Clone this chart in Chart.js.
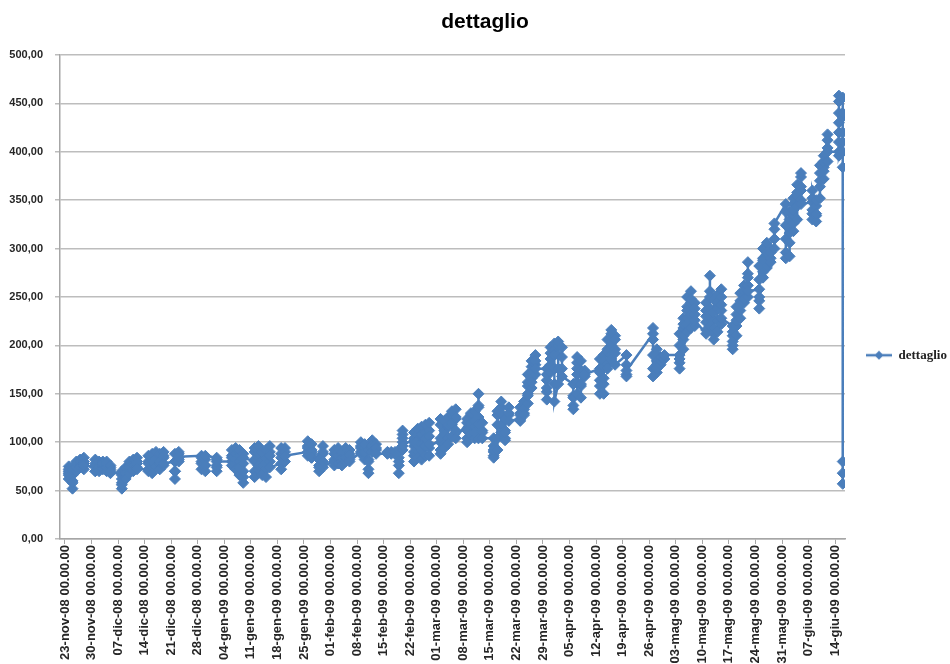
<!DOCTYPE html>
<html><head><meta charset="utf-8">
<script src="https://cdn.jsdelivr.net/npm/chart.js@4.4.1/dist/chart.umd.min.js"></script>
<style>html,body{margin:0;padding:0;background:#fff;}</style>
</head><body>
<canvas id="c" width="950" height="664"></canvas>
<script>
const seriesName = 'dettaglio';
// x tick positions: days since 23-nov-08
const tickDays = [0,7,14,21,28,35,42,49,56,63,70,77,84,91,98,105,112,119,126,133,140,147,154,161,168,175,182,189,196,203];
const tickLabels = ['23-nov-08 00.00.00','30-nov-08 00.00.00','07-dic-08 00.00.00','14-dic-08 00.00.00','21-dic-08 00.00.00','28-dic-08 00.00.00','04-gen-09 00.00.00','11-gen-09 00.00.00','18-gen-09 00.00.00','25-gen-09 00.00.00','01-feb-09 00.00.00','08-feb-09 00.00.00','15-feb-09 00.00.00','22-feb-09 00.00.00','01-mar-09 00.00.00','08-mar-09 00.00.00','15-mar-09 00.00.00','22-mar-09 00.00.00','29-mar-09 00.00.00','05-apr-09 00.00.00','12-apr-09 00.00.00','19-apr-09 00.00.00','26-apr-09 00.00.00','03-mag-09 00.00.00','10-mag-09 00.00.00','17-mag-09 00.00.00','24-mag-09 00.00.00','31-mag-09 00.00.00','07-giu-09 00.00.00','14-giu-09 00.00.00'];
const yTickValues = [0,50,100,150,200,250,300,350,400,450,500];
// trading days (days since 23-nov-08) and the readings taken on each day
const tradingDays = [1,2,3,4,5,8,9,10,11,12,15,16,17,18,19,22,23,24,25,26,29,30,36,37,40,44,45,46,47,50,51,52,53,54,57,58,64,65,67,68,71,72,73,74,75,78,79,80,81,82,85,86,87,88,89,92,93,94,95,96,99,100,101,102,103,106,107,108,109,110,113,114,115,116,117,120,121,122,123,124,127,128,129,130,131,134,135,136,137,141,142,143,144,145,148,155,156,157,158,162,163,164,165,166,169,170,171,172,173,176,177,178,179,180,183,184,185,186,187,190,191,192,193,194,197,198,199,200,201,204,205];
const dailyValues = [
 [66,72,62,75,70,68],[70,60,52,58,66,72],[70,76,80,74,78],[78,82,76,80,74],[76,80,84,78,72,76],
 [74,70,78,82,76,70],[72,78,80,74,70],[74,80,76,72,78],[76,70,74,80,78],[74,68,72,76,70],
 [66,58,52,56,62,70],[64,70,74,68,62],[70,76,80,74,68],[72,78,82,76,70],[74,80,84,78,72],
 [72,80,86,78,70],[74,82,88,80,68],[76,84,90,82,74],[78,86,88,80,72],[76,84,90,86,78],
 [80,70,62,70,80,88],[82,88,90,84,80,85],
 [86,80,72,78,84],[82,76,70,76,86],[84,76,70,74,82,80],
 [80,86,92,84,76],[78,88,94,82,72],[80,72,66,74,86,92],[88,78,64,58,70,84],
 [80,90,94,82,70,64],[72,84,96,88,76],[82,74,66,76,90],[92,84,72,64,78],[80,90,96,86,74],
 [78,88,94,84,72],[80,86,94,90,86],
 [90,96,101,94,86],[88,84,92,98,90,84],[84,76,70,74,82],[88,96,90,80,74],
 [82,76,80,88,92],[90,84,78,86,94],[88,80,76,84,90],[86,94,88,80,84],[82,88,92,86,80],
 [90,96,100,94,88],[94,88,82,90,98],[92,82,72,68,80,92],[94,100,102,96,90],[92,98,94,88],
 [88,90,89],[89,90,88],[88,90],[90,84,76,68,80,92],[92,100,108,112,104,96],
 [104,96,86,80,90,100,110],[108,114,102,90,84,96],[98,106,116,108,92,82],[86,96,110,118,104],[112,120,106,94,86,98],
 [100,92,88,104,118,124],[120,112,98,94,108,122],[116,126,118,104,98],[106,118,128,132,120],[124,134,126,112,104],
 [120,112,104,100,112,124],[118,128,130,120,108],[116,104,110,122,132],[126,138,150,136,118,104],[112,120,110,104],
 [104,96,90,86,84,92],[92,104,118,128,132],[136,142,130,118,110],[112,104,102,110,124],[128,136,130,122],
 [124,130,136,128,122],[130,138,142,134,128],[140,150,162,170,158,148],[156,166,178,184,172,162],[170,180,190,184,176],
 [176,164,152,144,156,170],[180,192,198,186,172],[196,202,190,176,160,142],[160,176,190,200,204],[198,188,176,168],
 [160,148,138,134,146,160],[170,182,188,176,162,150],[146,158,172,184,174,160],[168,174,170],
 [176,164,150,158,172,186],[190,178,160,150,166,184],[180,196,206,194,176],[190,204,212,216,200,186],[196,210,206,192,180],
 [190,180,170,168,174],
 [212,218,206,190,176,168],[172,184,196,190,180,176],[180,184,188],[186,190],
 [190,182,176,186,200,212],[206,218,228,222,210,196],[214,228,240,250,236,222],[230,244,256,248,232,218],[220,232,244,238,226],
 [212,224,236,244,230,216],[220,238,256,272,250,232],[226,212,206,218,234,248],[238,252,244,226,214],[222,236,250,258,242,228],
 [220,210,200,196,204,214],[210,220,232,240,226],[228,236,246,254,242],[244,252,262,256,248],[250,262,274,286,270,256],
 [258,246,238,250,268,282],[276,290,300,288,270],[280,294,306,296,282],[290,300,296,286],[300,310,320,326],
 [346,338,324,310,296,290],[292,306,322,338,330,316],[318,334,346,352,340,326],[330,344,358,366,354],[350,364,374,378,360,346],
 [348,336,330,340,352,360],[344,334,328,336,350],[352,364,378,386,370],[372,384,396,390,380],[390,404,418,412,400],
 [400,420,440,458,452,430,410,396],[410,436,456,440,420,400,384,80,68,57]
];

const points = [];
tradingDays.forEach((d, i) => dailyValues[i].forEach(v => points.push({x: d, y: v})));

const blue = '#4A7EBB';
const marker = document.createElement('canvas');
marker.width = 26; marker.height = 10;
(function(){
  const g = marker.getContext('2d');
  g.strokeStyle = blue; g.lineWidth = 2.5;
  g.beginPath(); g.moveTo(0,5); g.lineTo(26,5); g.stroke();
  g.fillStyle = blue;
  g.beginPath(); g.moveTo(13,0.5); g.lineTo(17.5,5); g.lineTo(13,9.5); g.lineTo(8.5,5); g.closePath(); g.fill();
})();

// centre the title over x = 485 like the original
const titleShift = {
  id: 'titleShift',
  afterLayout(chart) {
    if (chart.titleBlock) { chart.titleBlock.left = 20; chart.titleBlock.right = chart.width; }
  }
};

const sans = "'Liberation Sans', Arial, sans-serif";
new Chart(document.getElementById('c'), {
  type: 'line',
  data: { datasets: [{
    label: seriesName,
    data: points,
    borderColor: blue, backgroundColor: blue,
    borderWidth: 2.5, tension: 0, fill: false,
    pointStyle: 'rectRot', pointRadius: 5.5, pointBorderWidth: 1,
    pointBackgroundColor: blue, pointBorderColor: blue
  }]},
  plugins: [titleShift],
  options: {
    responsive: false, animation: false,
    layout: { padding: { left: 0, right: 0, top: 0, bottom: 0 } },
    scales: {
      x: {
        type: 'linear', min: -1.3, max: 205.6,
        afterBuildTicks: s => { s.ticks = tickDays.map(v => ({value: v})); },
        afterFit: s => { s.height = 125; },
        ticks: { autoSkip: false, minRotation: 90, maxRotation: 90, padding: 1,
          font: { family: sans, size: 13, weight: 'bold' }, color: '#262626',
          callback: (v, i) => tickLabels[i] },
        grid: { drawOnChartArea: false, color: '#a6a6a6', tickLength: 5, lineWidth: 1 },
        border: { color: '#a6a6a6', width: 1.5 }
      },
      y: {
        min: 0, max: 500,
        afterBuildTicks: s => { s.ticks = yTickValues.map(v => ({value: v})); },
        afterFit: s => { s.width = 60; },
        ticks: { padding: 12, font: { family: sans, size: 11, weight: 'bold' }, color: '#262626',
          callback: v => v.toFixed(2).replace('.', ',') },
        grid: { color: '#bdbdbd', lineWidth: 1.5, tickLength: 5 },
        border: { color: '#a6a6a6', width: 1.5 }
      }
    },
    plugins: {
      tooltip: { enabled: false },
      title: { display: true, text: 'dettaglio', color: '#000',
        font: { family: sans, size: 21, weight: 'bold' }, padding: { top: 9.4, bottom: 20.4 } },
      legend: {
        position: 'right', maxWidth: 105,
        title: { display: true, text: '', padding: { top: 0, bottom: 32 }, font: { size: 12 } },
        labels: { usePointStyle: true, pointStyle: marker, pointStyleWidth: 26, padding: 21,
          font: { family: "'Liberation Serif', serif", size: 13, weight: 'bold' }, color: '#222' }
      }
    }
  }
});
</script>
</body></html>
